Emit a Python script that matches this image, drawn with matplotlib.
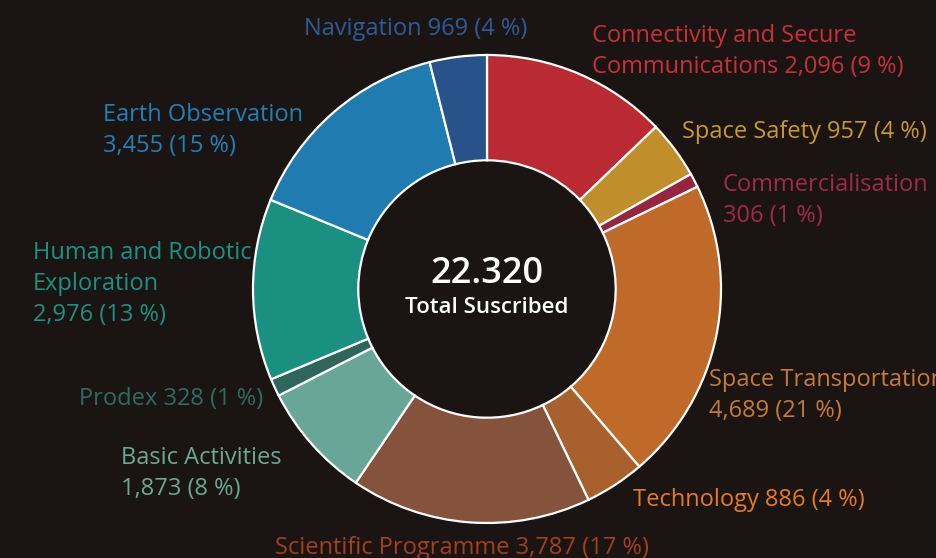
import matplotlib.pyplot as plt

# ESA budget subscriptions (M EUR)
programmes = ['Connectivity and Secure\nCommunications', 'Space Safety', 'Commercialisation',
              'Space Transportation', 'Technology', 'Scientific Programme', 'Basic Activities',
              'Prodex', 'Human and Robotic\nExploration', 'Earth Observation', 'Navigation']
values = [2096, 957, 306, 4689, 886, 3787, 1873, 328, 2976, 3455, 969]
percents = [9, 4, 1, 21, 4, 17, 8, 1, 13, 15, 4]
# slice sizes as actually drawn in the chart (connectivity slice is drawn larger than its label)
slice_sizes = [2864, 893, 217, 4669, 924, 3708, 1786, 273, 2796, 3311, 880]
slice_colors = ['#b92a33', '#c08e2a', '#962540', '#bf6a29', '#a8602c', '#85533b',
                '#68a797', '#2e665c', '#1a9080', '#1f7bb0', '#27528a']
label_colors = ['#c8303a', '#c9982f', '#a02a48', '#c87a35', '#e87a25', '#a3401f',
                '#6aa898', '#2f6b63', '#1a9282', '#2080b8', '#2d5c99']
total_text = '22.320'
total_label = 'Total Suscribed'

# label layout: (x, y of first line, value on new line?) in pixels from top-left
label_pos = [(592, 36, False), (682, 132, False), (723, 185, True), (709, 380, True),
             (633, 500, False), (275, 548, False), (121, 458, True), (79, 399, False),
             (33, 253, True), (103, 115, True), (304, 29, False)]

bg = '#1a1512'
W, H = 937, 558
plt.rcParams['font.family'] = ['Open Sans', 'DejaVu Sans']

fig = plt.figure(figsize=(W / 100, H / 100), dpi=100, facecolor=bg)
ax = fig.add_axes([0, 0, 1, 1])
ax.set_facecolor(bg)

cx, cy, r = 487, H - 289, 234
ax.pie(slice_sizes, colors=slice_colors, startangle=90, counterclock=False,
       center=(cx, cy), radius=r, frame=True,
       wedgeprops=dict(width=r * 0.45, edgecolor='white', linewidth=1.6))
ax.set_xlim(0, W)
ax.set_ylim(0, H)
ax.set_aspect('equal')
ax.axis('off')

ax.text(cx, cy + 15, total_text, ha='center', va='center', color='white',
        fontsize=26, fontweight='semibold')
ax.text(cx, cy - 18, total_label, ha='center', va='center', color='white',
        fontsize=16, fontweight='semibold')

for name, v, p, col, (x, y, brk) in zip(programmes, values, percents, label_colors, label_pos):
    val = f'{v:,} ({p} %)'
    lines = name.split('\n')
    if brk:
        lines.append(val)
    else:
        lines[-1] = lines[-1] + ' ' + val
    for i, line in enumerate(lines):
        ax.text(x, H - (y + i * 31), line, ha='left', va='center', color=col, fontsize=17)

fig.savefig('out.png', dpi=100, facecolor=bg)
